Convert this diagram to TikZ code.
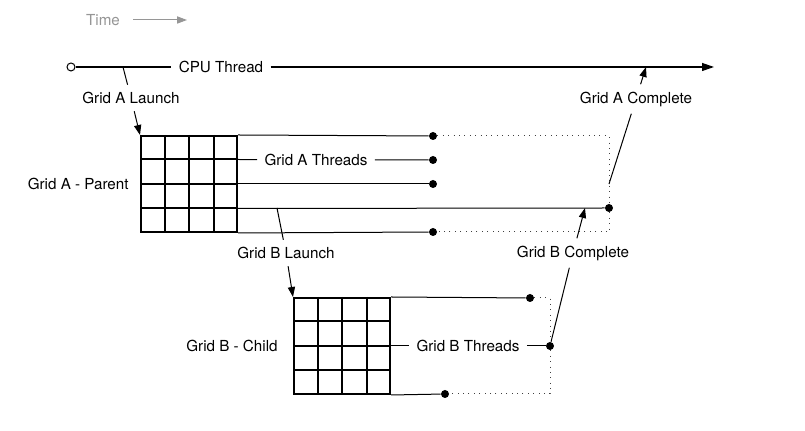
\documentclass[tikz,border=0pt]{standalone}
\usepackage{fontspec}
\setmainfont{TeX Gyre Heros}
\usetikzlibrary{arrows.meta,positioning,calc}

\definecolor{timegray}{RGB}{150,150,150}

\tikzset{
  lbl/.style={fill=white, inner sep=3.5pt, font=\fontsize{7.6}{9}\selectfont},
  dot/.style={circle, fill=black, inner sep=0pt, minimum size=4pt},
  opendot/.style={circle, draw=black, fill=white, line width=0.5pt, inner sep=0pt, minimum size=4pt},
  gridbox/.style={draw=black, line width=1pt, minimum size=48pt, inner sep=0pt},
  gridline/.style={line width=1pt},
  thread/.style={line width=0.5pt},
  joinline/.style={line width=0.5pt, black!75, dash pattern=on 0.5pt off 2.2pt},
  call/.style={line width=0.5pt, -{Triangle[length=5pt,width=3.6pt]}},
}

\begin{document}
\begin{tikzpicture}[x=0.5pt, y=-0.5pt]

    \useasboundingbox (0,0) rectangle (805,431);

    % Time hint
    \node[lbl, text=timegray] (time) at (103,20) {Time};
    \coordinate (timeEnd) at (187,20);
    \draw[timegray, line width=0.5pt, shorten <=3pt, -{Triangle[length=5pt,width=3.6pt]}] (time) -- (timeEnd);

    % CPU thread
    \node[opendot] (cpu0) at (71,67) {};
    \coordinate (cpuEnd) at (714,67);
    \node[lbl] (cpuLbl) at (221,67) {CPU Thread};
    \draw[line width=0.6pt, -{Triangle[length=6pt,width=4pt]}] (cpu0) -- (cpuLbl) -- (cpuEnd);

    %-------------
    % Grid A
    \node[gridbox] (gA) at (189,184) {};
    \foreach \i in {1,2,3} {
        \draw[gridline] ($(gA.north west)!\i/4!(gA.south west)$) -- ($(gA.north east)!\i/4!(gA.south east)$);
        \draw[gridline] ($(gA.north west)!\i/4!(gA.north east)$) -- ($(gA.south west)!\i/4!(gA.south east)$);
    }
    \foreach \i in {0,...,4}
        \coordinate (gA\i) at ($(gA.north east)!\i/4!(gA.south east)$);
    \node[lbl, left=2pt of gA] (gAName) {Grid A - Parent};

    \node[dot] (aT0) at (433,136) {};
    \node[dot] (aT1) at (433,160) {};
    \node[dot] (aT2) at (433,184) {};
    \node[dot] (aT3) at (609,208) {};
    \node[dot] (aT4) at (433,232) {};
    \coordinate (aC0) at (609,136);
    \coordinate (aC4) at (609,232);
    \node[lbl] (aThr) at (316,160) {Grid A Threads};

    \draw[thread] (gA0) -- (aT0);
    \draw[thread] (gA1) -- (aThr) -- (aT1);
    \draw[thread] (gA2) -- (aT2);
    \draw[thread] (gA3) -- (aT3);
    \draw[thread] (gA4) -- (aT4);
    \draw[joinline] (aT0) -- (aC0) -- (aT3) -- (aC4) -- (aT4);

    % launch / complete of grid A
    \coordinate (aLaunch) at (123,67);
    \node[lbl] (aLaunchLbl) at (131,98) {Grid A Launch};
    \draw[call] (aLaunch) -- (aLaunchLbl) -- (gA.north west);

    \coordinate (aDone) at (609,184);
    \coordinate (aDoneEnd) at (646,67);
    \node[lbl] (aDoneLbl) at (636,99) {Grid A Complete};
    \draw[call] (aDone) -- (aDoneLbl) -- (aDoneEnd);

    %-------------
    % Grid B
    \node[gridbox] (gB) at (342,346) {};
    \foreach \i in {1,2,3} {
        \draw[gridline] ($(gB.north west)!\i/4!(gB.south west)$) -- ($(gB.north east)!\i/4!(gB.south east)$);
        \draw[gridline] ($(gB.north west)!\i/4!(gB.north east)$) -- ($(gB.south west)!\i/4!(gB.south east)$);
    }
    \foreach \i in {0,...,4}
        \coordinate (gB\i) at ($(gB.north east)!\i/4!(gB.south east)$);
    \node[lbl, left=4pt of gB] (gBName) {Grid B - Child};

    \node[dot] (bT0) at (530,298) {};
    \node[dot] (bT2) at (550,346) {};
    \node[dot] (bT4) at (445,394) {};
    \coordinate (bC0) at (550,298);
    \coordinate (bC4) at (550,394);
    \node[lbl] (bThr) at (468,346) {Grid B Threads};

    \draw[thread] (gB0) -- (bT0);
    \draw[thread] (gB2) -- (bThr) -- (bT2);
    \draw[thread] (gB4) -- (bT4);
    \draw[joinline] (bT0) -- (bC0) -- (bT2) -- (bC4) -- (bT4);

    % launch / complete of grid B
    \coordinate (bLaunch) at (277,208);
    \node[lbl] (bLaunchLbl) at (286,253) {Grid B Launch};
    \draw[call] (bLaunch) -- (bLaunchLbl) -- (gB.north west);

    \coordinate (bDoneEnd) at (585,208);
    \node[lbl] (bDoneLbl) at (573,253) {Grid B Complete};
    \draw[call] (bT2) -- (bDoneLbl) -- (bDoneEnd);

\end{tikzpicture}
\end{document}
